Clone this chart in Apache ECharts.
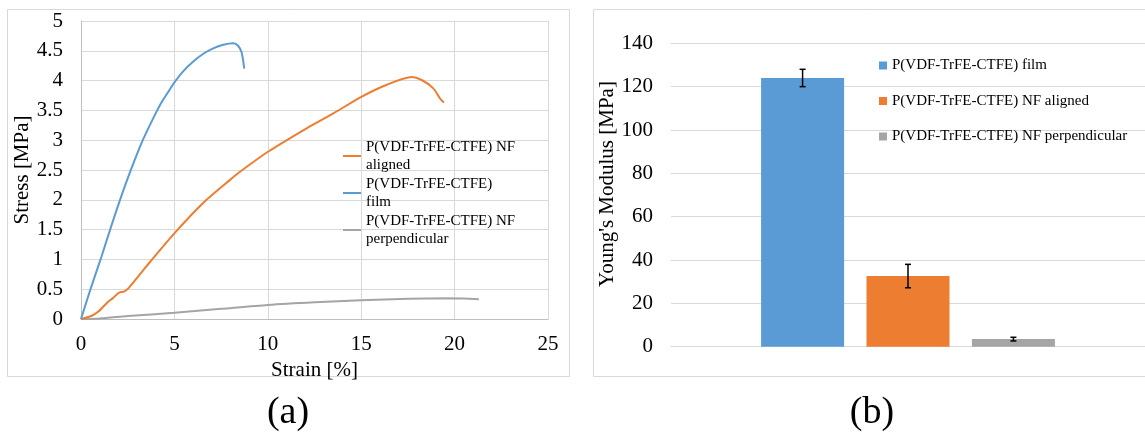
<!DOCTYPE html>
<html><head><meta charset="utf-8">
<script src="https://cdn.jsdelivr.net/npm/echarts@6/dist/echarts.min.js"></script>
<style>html,body{margin:0;padding:0;background:#fff}#c{width:1145px;height:436px}</style>
</head><body><div id="c"></div>
<script>
// ---- data ----
const seriesNames = ['P(VDF-TrFE-CTFE) film', 'P(VDF-TrFE-CTFE) NF aligned', 'P(VDF-TrFE-CTFE) NF perpendicular'];
const leftLegendLabels = {
  'P(VDF-TrFE-CTFE) NF aligned': 'P(VDF-TrFE-CTFE) NF\naligned',
  'P(VDF-TrFE-CTFE) film': 'P(VDF-TrFE-CTFE)\nfilm',
  'P(VDF-TrFE-CTFE) NF perpendicular': 'P(VDF-TrFE-CTFE) NF\nperpendicular'
};
// stress-strain curves: [strain %, stress MPa]
const filmCurve = [[0,0],[0.55,0.54],[1.09,1.04],[1.6,1.54],[2.09,2.0],[2.62,2.46],[3.25,2.96],[3.87,3.37],[4.32,3.64],[4.73,3.84],[5.0,3.97],[5.48,4.16],[6.01,4.32],[6.55,4.45],[7.08,4.54],[7.62,4.6],[8.15,4.625],[8.42,4.58],[8.6,4.47],[8.74,4.2]];
const alignedCurve = [[0,0],[0.55,0.05],[0.91,0.12],[1.45,0.29],[1.71,0.35],[2.02,0.44],[2.3,0.46],[2.52,0.51],[3.41,0.85],[5.01,1.44],[6.62,1.97],[7.96,2.33],[8.51,2.47],[10.03,2.81],[12.08,3.2],[13.51,3.45],[15.03,3.73],[16.37,3.93],[17.7,4.06],[18.24,4.01],[18.86,3.87],[19.22,3.7],[19.43,3.63]];
const perpCurve = [[0,0],[1,0.01],[2.5,0.05],[5,0.105],[7.5,0.17],[10,0.235],[12.5,0.28],[15,0.315],[17.5,0.34],[19.5,0.347],[20.5,0.345],[21.3,0.33]];
// Young's modulus (MPa) and error
const modulusValues = [124, 32.6, 3.5];
const modulusErrors = [4, 5.4, 0.85];
const panelLabels = ['(a)', '(b)'];

// ---- styles ----
const COLORS = ['#5B9BD5', '#ED7D31', '#A5A5A5'];
const FONT = "'Liberation Serif', 'Times New Roman', serif";
const GRID_C = '#D9D9D9', AXIS_C = '#BFBFBF';
const BAR_WIDTH = 83, BAR_GAP = 0.27;

const curves = [filmCurve, alignedCurve, perpCurve];

const chart = echarts.init(document.getElementById('c'), null, {renderer: 'canvas'});
const lineSeries = curves.map((d, i) => ({
  type: 'line', name: seriesNames[i], xAxisIndex: 0, yAxisIndex: 0, data: d,
  symbol: 'none', smooth: 0.25, color: COLORS[i], lineStyle: {width: 2, color: COLORS[i]}, z: 3 - i
}));
const barSeries = modulusValues.map((v, i) => ({
  type: 'bar', name: seriesNames[i], xAxisIndex: 1, yAxisIndex: 1, data: [v],
  barWidth: BAR_WIDTH, barGap: (BAR_GAP * 100) + '%', color: COLORS[i], itemStyle: {color: COLORS[i]}
}));
const errSeries = {
  type: 'custom', name: 'err', xAxisIndex: 1, yAxisIndex: 1, z: 5,
  data: modulusValues.map((v, i) => [0, v, modulusErrors[i], i]),
  encode: {x: 0, y: 1},
  renderItem: (params, api) => {
    const v = api.value(1), e = api.value(2), idx = api.value(3);
    const c = api.coord([0, v]);
    const x = c[0] + (idx - 1) * BAR_WIDTH * (1 + BAR_GAP);
    const yt = api.coord([0, v + e])[1], yb = api.coord([0, v - e])[1];
    const st = {stroke: '#000', lineWidth: 1.5};
    return {type: 'group', children: [
      {type: 'line', shape: {x1: x, y1: yt, x2: x, y2: yb}, style: st},
      {type: 'line', shape: {x1: x - 3, y1: yt, x2: x + 3, y2: yt}, style: st},
      {type: 'line', shape: {x1: x - 3, y1: yb, x2: x + 3, y2: yb}, style: st}
    ]};
  }
};

const txt = {fontFamily: FONT, color: '#000'};
chart.setOption({
  animation: false,
  backgroundColor: '#fff',
  grid: [
    {left: 81, top: 21, width: 467, height: 298},
    {left: 671, top: 43.3, width: 474, height: 303.4}
  ],
  xAxis: [
    {type: 'value', gridIndex: 0, min: 0, max: 25, interval: 5,
     axisLine: {show: true, lineStyle: {color: AXIS_C}}, axisTick: {show: false},
     splitLine: {show: true, lineStyle: {color: GRID_C}},
     axisLabel: Object.assign({fontSize: 21, margin: 15}, txt),
     name: 'Strain [%]', nameLocation: 'middle', nameGap: 32,
     nameTextStyle: Object.assign({fontSize: 21}, txt)},
    {type: 'category', gridIndex: 1, data: [''],
     axisLine: {show: true, lineStyle: {color: GRID_C}}, axisTick: {show: false}, axisLabel: {show: false}}
  ],
  yAxis: [
    {type: 'value', gridIndex: 0, min: 0, max: 5, interval: 0.5,
     axisLine: {show: true, lineStyle: {color: AXIS_C}}, axisTick: {show: false},
     splitLine: {show: true, lineStyle: {color: GRID_C}},
     axisLabel: Object.assign({fontSize: 21, margin: 18}, txt),
     name: 'Stress [MPa]', nameLocation: 'middle', nameGap: 45,
     nameTextStyle: Object.assign({fontSize: 21}, txt)},
    {type: 'value', gridIndex: 1, min: 0, max: 140, interval: 20,
     axisLine: {show: false}, axisTick: {show: false},
     splitLine: {show: true, lineStyle: {color: GRID_C}},
     axisLabel: Object.assign({fontSize: 21, margin: 18}, txt),
     name: "Young's Modulus [MPa]", nameLocation: 'middle', nameGap: 53,
     nameTextStyle: Object.assign({fontSize: 21, padding: [0, 0, 0, 22]}, txt)}
  ],
  legend: [
    {data: [seriesNames[1], seriesNames[0], seriesNames[2]], orient: 'vertical', left: 343, top: 129,
     padding: 0, itemGap: -17, itemWidth: 18, itemHeight: 2, icon: 'rect', selectedMode: false,
     formatter: n => leftLegendLabels[n],
     textStyle: Object.assign({fontSize: 15, lineHeight: 18, padding: [18, 0, 0, 0]}, txt)},
    {data: seriesNames.slice(), orient: 'vertical', left: 879, top: 57,
     padding: 0, itemGap: 18.5, itemWidth: 8, itemHeight: 8, icon: 'rect', selectedMode: false,
     textStyle: Object.assign({fontSize: 15, lineHeight: 17}, txt)}
  ],
  graphic: [
    {type: 'rect', shape: {x: 7.5, y: 9.5, width: 562, height: 367}, style: {fill: 'none', stroke: GRID_C, lineWidth: 1}, z: -1},
    {type: 'rect', shape: {x: 593.5, y: 9.5, width: 560, height: 367}, style: {fill: 'none', stroke: GRID_C, lineWidth: 1}, z: -1},
    {type: 'text', x: 288, y: 413, style: {text: panelLabels[0], font: '38px ' + FONT, fill: '#000', textAlign: 'center', textVerticalAlign: 'middle'}},
    {type: 'text', x: 872, y: 413, style: {text: panelLabels[1], font: '38px ' + FONT, fill: '#000', textAlign: 'center', textVerticalAlign: 'middle'}}
  ],
  series: [...lineSeries, ...barSeries, errSeries]
});
</script>
</body></html>
